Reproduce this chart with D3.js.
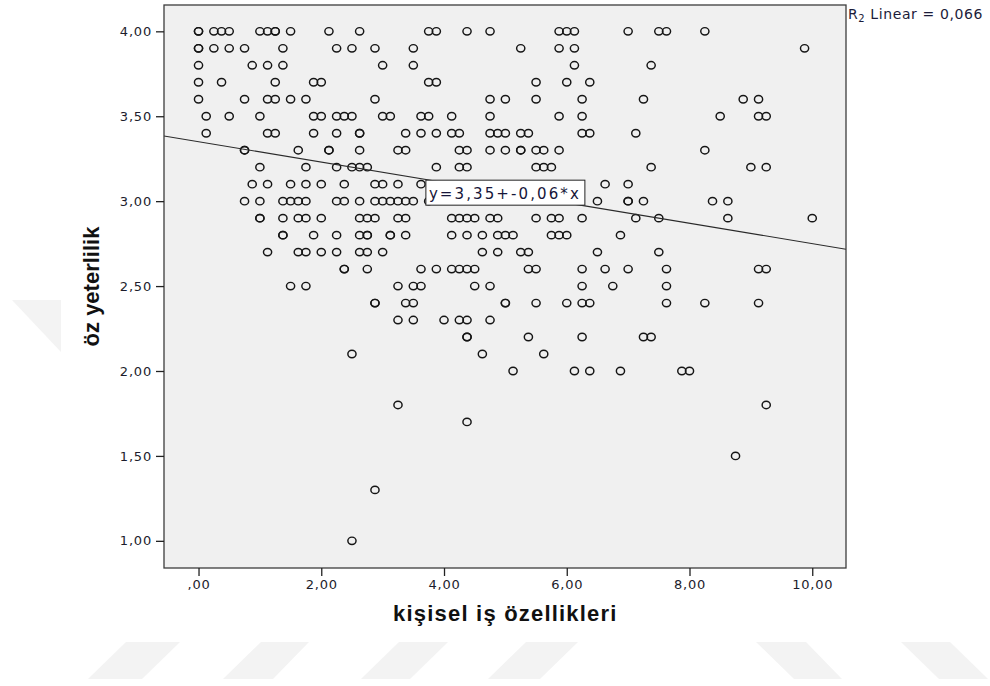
<!DOCTYPE html>
<html>
<head>
<meta charset="utf-8">
<script src="https://cdn.jsdelivr.net/npm/d3@7"></script>
<style>
  body { margin: 0; background: #ffffff; }
  svg { display: block; }
</style>
</head>
<body>
<svg id="chart" width="990" height="686"></svg>
<script>
// ---------- data ----------
const yLevels = [4.0, 3.9, 3.8, 3.7, 3.6, 3.5, 3.4, 3.3, 3.2, 3.1, 3.0, 2.9, 2.8, 2.7, 2.6, 2.5, 2.4, 2.3, 2.2, 2.1, 2.0, 1.8, 1.7, 1.5, 1.3, 1.0];
const xAtLevel = [
  [0,0,0.25,0.375,0.5,1,1.125,1.25,1.25,1.5,2.125,2.625,3.75,3.875,4.375,4.75,5.875,6,6.125,7,7.5,7.625,8.25],
  [0,0,0.25,0.5,0.75,1.375,2.25,2.5,2.875,3.5,5.25,5.875,6.125,9.875],
  [0,0.875,1.125,1.375,3,3.5,6.125,7.375],
  [0,0.375,1.25,1.875,2,3.75,3.875,5.5,6,6.375],
  [0,0.75,1.125,1.25,1.5,1.75,2.875,4.75,5,5.5,6.25,7.25,8.875,9.125],
  [0.125,0.5,1,1.875,2,2.25,2.375,2.5,3,3.125,3.625,3.75,4.125,4.75,5.875,6.25,8.5,9.125,9.25],
  [0.125,1.125,1.25,1.875,2.25,2.625,2.625,3.375,3.625,3.875,4.125,4.25,4.75,4.875,5,5.25,5.375,6.25,6.375,7.125],
  [0.75,0.75,1.625,2.125,2.125,2.625,3.25,3.375,4.25,4.375,4.75,5,5.25,5.25,5.5,5.625,5.875,8.25],
  [1,1.75,2.25,2.5,2.625,2.75,3.875,4.25,4.375,5.5,5.625,5.75,7.375,9,9.25],
  [0.875,1.125,1.5,1.75,2,2.375,2.875,3,3.25,3.625,6.625,7],
  [0.75,1,1.375,1.5,1.625,1.75,2.25,2.375,2.625,2.875,3,3.125,3.25,3.375,3.5,3.75,6.5,7,7,7.25,8.375,8.625],
  [1,1,1.375,1.625,1.75,2,2.625,2.75,2.875,3.25,3.375,4.125,4.25,4.375,4.5,4.75,4.875,5.5,5.75,5.875,6.25,7.125,7.5,8.625,10],
  [1.375,1.375,1.875,2.25,2.625,2.75,2.75,3.125,3.125,3.375,4.125,4.375,4.625,4.875,5,5.125,5.75,5.875,6,6.875],
  [1.125,1.625,1.75,2,2.25,2.625,2.75,3,4.625,4.875,5.25,5.375,6.5,7.5],
  [2.375,2.375,2.75,3.625,3.875,4.125,4.25,4.375,4.5,5.375,5.5,6.25,6.625,7,7.625,9.125,9.25],
  [1.5,1.75,3.25,3.5,3.625,4.5,4.75,6.25,6.75,7.625],
  [2.875,2.875,3.375,3.5,5,5,5.5,6,6.25,6.375,7.625,8.25,9.125],
  [3.25,3.5,4,4.25,4.375,4.75],
  [4.375,4.375,5.375,6.25,7.25,7.375],
  [2.5,4.625,5.625],
  [5.125,6.125,6.375,6.875,7.875,8],
  [3.25,9.25],
  [4.375],
  [8.75],
  [2.875],
  [2.5]
];
const xTickValues = [0, 2, 4, 6, 8, 10];
const xTickLabels = [",00", "2,00", "4,00", "6,00", "8,00", "10,00"];
const yTickValues = [1, 1.5, 2, 2.5, 3, 3.5, 4];
const yTickLabels = ["1,00", "1,50", "2,00", "2,50", "3,00", "3,50", "4,00"];
const fitIntercept = 3.35;
const fitSlope = -0.06;
const fitLabel = "y=3,35+-0,06*x";
const rSquaredLabel = ["R", "2", " Linear = 0,066"];
const xTitle = "kişisel iş özellikleri";
const yTitle = "öz yeterlilik";

// ---------- layout ----------
const plot = { left: 164, right: 846, top: 5, bottom: 568 };
const svg = d3.select("#chart");

const x = d3.scaleLinear().domain([-0.5625, 10.55]).range([plot.left, plot.right]);
const y = d3.scaleLinear().domain([0.84, 4.155]).range([plot.bottom, plot.top]);

const points = [];
yLevels.forEach((lv, i) => xAtLevel[i].forEach(v => points.push({ x: v, y: lv })));

// faint page watermark (decoration of the source page)
const wmY0 = 642, wmY1 = 679;
const watermark = [
  [[126, wmY0], [180, wmY0], [142, wmY1], [88, wmY1]],
  [[261, wmY0], [309, wmY0], [273, wmY1], [223, wmY1]],
  [[399, wmY0], [448, wmY0], [410, wmY1], [361, wmY1]],
  [[526, wmY0], [578, wmY0], [540, wmY1], [488, wmY1]],
  [[756, wmY0], [806, wmY0], [842, wmY1], [794, wmY1]],
  [[901, wmY0], [950, wmY0], [988, wmY1], [939, wmY1]],
  [[12, 300], [61, 300], [61, 352]]
];
svg.append("g").selectAll("polygon").data(watermark).join("polygon")
  .attr("points", d => d.map(p => p.join(",")).join(" "))
  .attr("fill", "#f3f3f3");

// plot background
svg.append("rect")
  .attr("x", plot.left).attr("y", plot.top)
  .attr("width", plot.right - plot.left).attr("height", plot.bottom - plot.top)
  .attr("fill", "#f0f0f0");

// clip
svg.append("clipPath").attr("id", "plotclip").append("rect")
  .attr("x", plot.left).attr("y", plot.top)
  .attr("width", plot.right - plot.left).attr("height", plot.bottom - plot.top);

// points
svg.append("g").attr("clip-path", "url(#plotclip)")
  .selectAll("ellipse").data(points).join("ellipse")
  .attr("cx", d => x(d.x)).attr("cy", d => y(d.y))
  .attr("rx", 4.1).attr("ry", 3.7)
  .attr("fill", "none")
  .attr("stroke", "#151515")
  .attr("stroke-width", 1.45);

// fit line
const [dx0, dx1] = x.domain();
svg.append("line")
  .attr("clip-path", "url(#plotclip)")
  .attr("x1", x(dx0)).attr("y1", y(fitIntercept + fitSlope * dx0))
  .attr("x2", x(dx1)).attr("y2", y(fitIntercept + fitSlope * dx1))
  .attr("stroke", "#2a2a2a").attr("stroke-width", 1.1);

// fit label box at line midpoint
const midX = 5;
const cx = x(midX), cy = y(fitIntercept + fitSlope * midX);
const boxW = 159, boxH = 25;
svg.append("rect")
  .attr("x", cx - boxW / 2).attr("y", cy - boxH / 2)
  .attr("width", boxW).attr("height", boxH)
  .attr("fill", "#ffffff").attr("stroke", "#222").attr("stroke-width", 1);
svg.append("text")
  .attr("x", cx - boxW / 2 + 3).attr("y", cy + 6)
  .attr("font-family", "DejaVu Sans, Verdana, sans-serif")
  .attr("font-size", 15).attr("letter-spacing", 2.1)
  .attr("fill", "#16163a")
  .text(fitLabel);

// frame
svg.append("rect")
  .attr("x", plot.left).attr("y", plot.top)
  .attr("width", plot.right - plot.left).attr("height", plot.bottom - plot.top)
  .attr("fill", "none").attr("stroke", "#3c3c3c").attr("stroke-width", 1.3);

// axes
const xAxis = d3.axisBottom(x).tickValues(xTickValues)
  .tickFormat((d, i) => xTickLabels[i]).tickSize(8).tickPadding(4);
const gx = svg.append("g").attr("transform", `translate(0,${plot.bottom})`).call(xAxis);
gx.select(".domain").remove();
gx.selectAll(".tick line").attr("stroke", "#222").attr("stroke-width", 1.3);
gx.selectAll(".tick text")
  .attr("font-family", "DejaVu Sans, Verdana, sans-serif")
  .attr("font-size", 13).attr("letter-spacing", 0.8).attr("fill", "#1c1c2c");

const yAxis = d3.axisLeft(y).tickValues(yTickValues)
  .tickFormat((d, i) => yTickLabels[i]).tickSize(8).tickPadding(4);
const gy = svg.append("g").attr("transform", `translate(${plot.left},0)`).call(yAxis);
gy.select(".domain").remove();
gy.selectAll(".tick line").attr("stroke", "#222").attr("stroke-width", 1.3);
gy.selectAll(".tick text")
  .attr("font-family", "DejaVu Sans, Verdana, sans-serif")
  .attr("font-size", 13).attr("letter-spacing", 0.8).attr("fill", "#1c1c2c");

// axis titles
svg.append("text")
  .attr("x", (x(0) + x(10)) / 2).attr("y", 621)
  .attr("text-anchor", "middle")
  .attr("font-family", "Liberation Sans, Arial, sans-serif")
  .attr("font-weight", "bold").attr("font-size", 22).attr("letter-spacing", 1.2)
  .attr("fill", "#111")
  .text(xTitle);

svg.append("text")
  .attr("transform", `translate(99,${(plot.top + plot.bottom) / 2}) rotate(-90)`)
  .attr("text-anchor", "middle")
  .attr("font-family", "Liberation Sans, Arial, sans-serif")
  .attr("font-weight", "bold").attr("font-size", 22)
  .attr("fill", "#111")
  .text(yTitle);

// R squared note
const rt = svg.append("text")
  .attr("x", plot.right + 2).attr("y", 19)
  .attr("font-family", "DejaVu Sans, Verdana, sans-serif")
  .attr("font-size", 14).attr("letter-spacing", 0.6)
  .attr("fill", "#1c1c3a");
rt.append("tspan").text(rSquaredLabel[0]);
rt.append("tspan").attr("font-size", 10).attr("dy", 3).text(rSquaredLabel[1]);
rt.append("tspan").attr("dy", -3).text(rSquaredLabel[2]);
</script>
</body>
</html>
